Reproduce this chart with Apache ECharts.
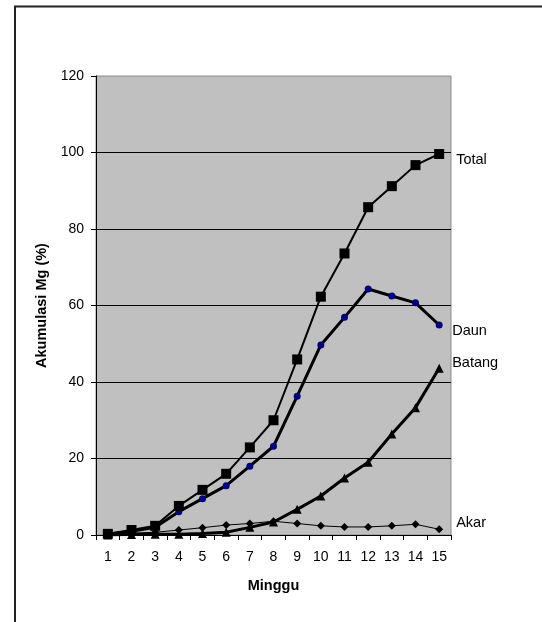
<!DOCTYPE html>
<html><head><meta charset="utf-8">
<script src="https://cdn.jsdelivr.net/npm/echarts@6/dist/echarts.min.js"></script>
<style>html,body{margin:0;padding:0;background:#fff}#c{width:542px;height:622px}</style>
</head><body><div id="c"></div>
<script>
var weeks = ['1','2','3','4','5','6','7','8','9','10','11','12','13','14','15'];
var total = [0.3, 1.3, 2.4, 7.6, 11.8, 16.0, 22.9, 30.0, 45.9, 62.3, 73.6, 85.7, 91.2, 96.7, 99.6];
var daun = [0.2, 1.0, 2.0, 6.1, 9.5, 12.9, 18.0, 23.2, 36.3, 49.7, 56.9, 64.3, 62.5, 60.7, 54.9];
var batang = [0.0, 0.1, 0.2, 0.2, 0.4, 0.7, 2.0, 3.4, 6.7, 10.2, 14.9, 19.0, 26.4, 33.3, 43.6];
var akar = [0.0, 0.5, 0.7, 1.3, 1.9, 2.6, 3.0, 3.6, 3.0, 2.4, 2.1, 2.1, 2.4, 2.8, 1.5];

var FONT = '"Liberation Sans", Arial, sans-serif';
var chart = echarts.init(document.getElementById('c'), null, {renderer: 'canvas'});
function endLbl(off){
  return {show: true, formatter: '{a}', offset: off, distance: 0, color: '#000', fontSize: 14.5, fontFamily: FONT, align: 'left', verticalAlign: 'middle'};
}
chart.setOption({
  animation: false,
  backgroundColor: '#fff',
  graphic: [{type: 'rect', shape: {x: 15, y: 6.5, width: 700, height: 800}, style: {fill: 'none', stroke: '#222', lineWidth: 2}, silent: true}],
  grid: {left: 96, right: 91, top: 76, bottom: 87, show: true, backgroundColor: '#c0c0c0', borderColor: '#8a8a8a', borderWidth: 1},
  xAxis: {
    type: 'category', data: weeks, boundaryGap: true,
    name: 'Minggu', nameLocation: 'middle', nameGap: 43,
    nameTextStyle: {fontFamily: FONT, fontWeight: 'bold', fontSize: 14.5, color: '#000'},
    axisLine: {lineStyle: {color: '#000', width: 1}},
    axisTick: {show: true, alignWithLabel: false, length: 5, lineStyle: {color: '#000'}},
    axisLabel: {fontFamily: FONT, fontSize: 14, color: '#000', margin: 15, interval: 0},
    splitLine: {show: false}
  },
  yAxis: {
    type: 'value', min: 0, max: 120, interval: 20,
    name: 'Akumulasi Mg (%)', nameLocation: 'middle', nameGap: 44, nameRotate: 90,
    nameTextStyle: {fontFamily: FONT, fontWeight: 'bold', fontSize: 14.5, color: '#000'},
    axisLine: {show: true, lineStyle: {color: '#000', width: 1}},
    axisTick: {show: true, length: 5, lineStyle: {color: '#000'}},
    axisLabel: {fontFamily: FONT, fontSize: 14, color: '#000', margin: 12},
    splitLine: {show: true, showMinLine: false, showMaxLine: false, lineStyle: {color: '#000', width: 1}}
  },
  series: [
    {name: 'Total', type: 'line', data: total, symbol: 'rect', symbolSize: 10,
     lineStyle: {color: '#000', width: 2}, itemStyle: {color: '#000'}, endLabel: endLbl([17, 6]), z: 5},
    {name: 'Daun', type: 'line', data: daun, symbol: 'circle', symbolSize: 7,
     lineStyle: {color: '#000', width: 3}, itemStyle: {color: '#000080'}, endLabel: endLbl([13, 6]), z: 4},
    {name: 'Batang', type: 'line', data: batang, symbol: 'triangle', symbolSize: 9,
     lineStyle: {color: '#000', width: 3}, itemStyle: {color: '#000'}, endLabel: endLbl([13, -5]), z: 3},
    {name: 'Akar', type: 'line', data: akar, symbol: 'diamond', symbolSize: 8,
     lineStyle: {color: '#000', width: 1}, itemStyle: {color: '#000'}, endLabel: endLbl([17, -6]), z: 2}
  ]
});
</script></body></html>
